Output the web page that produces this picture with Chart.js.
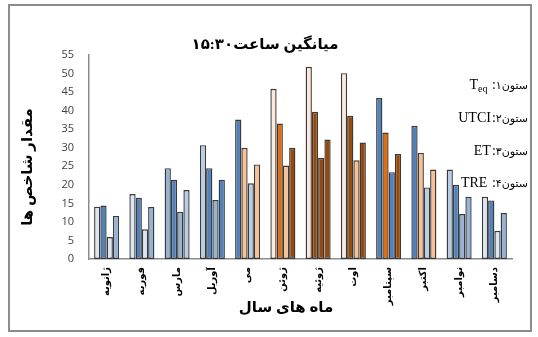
<!DOCTYPE html>
<html>
<head>
<meta charset="utf-8">
<script src="https://cdn.jsdelivr.net/npm/chart.js@4.4.1/dist/chart.umd.min.js"></script>
<style>
html,body{margin:0;padding:0;background:#fff;}
#wrap{position:relative;width:538px;height:337px;}
canvas{display:block;}
</style>
</head>
<body>
<div id="wrap"><canvas id="c" width="538" height="337"></canvas></div>
<script>
// ---- data ----
const categories = ['ژانویه','فوریه','مارس','آوریل','می','ژوئن','ژوئیه','اوت','سپتامبر','اکتبر','نوامبر','دسامبر'];
const teq  = [14.1, 17.5, 24.5, 30.7, 37.6, 45.9, 51.8, 50.1, 43.4, 35.9, 24.1, 16.8];
const utci = [14.4, 16.5, 21.4, 24.5, 30.0, 36.5, 39.7, 38.6, 34.1, 28.6, 20.0, 15.8];
const et   = [5.9, 8.0, 12.7, 15.9, 20.4, 25.2, 27.3, 26.6, 23.4, 19.3, 12.1, 7.6];
const tre  = [11.6, 14.0, 18.6, 21.4, 25.5, 30.0, 32.2, 31.4, 28.3, 24.1, 16.8, 12.4];
const seriesNames = ['Teq', 'UTCI', 'ET', 'TRE'];
const yTicks = [0, 5, 10, 15, 20, 25, 30, 35, 40, 45, 50, 55];
const titleText = 'میانگین ساعت۱۵:۳۰';
const xTitle = 'ماه های سال';
const yTitle = 'مقدار شاخص ها';
const legendLabels = ['ستون۱', 'ستون۲', 'ستون۳', 'ستون۴'];

// ---- styles (per-bar fill colours) ----
const L = '#dce6f2', B = '#4f81bd', M = '#95b3d7', S = '#b9cde5',
      P = '#fac090', VP = '#fde9d9', O = '#e46c0a', BR = '#984807';
const colTeq  = [L, L, M, S, B, VP, VP, VP, B, B, S, L];
const colUtci = [B, B, B, B, P, O, BR, BR, O, P, B, B];
const colEt   = [L, L, M, M, S, P, BR, P, B, S, M, L];
const colTre  = [M, M, S, B, P, BR, BR, BR, BR, P, M, M];

const seriesData = [teq, utci, et, tre];
const seriesCols = [colTeq, colUtci, colEt, colTre];

const datasets = seriesData.map((d, i) => ({
  label: seriesNames[i],
  data: d,
  backgroundColor: seriesCols[i],
  borderColor: '#3a3a3a',
  borderWidth: 1.4,
  borderSkipped: false,
  categoryPercentage: 0.71,
  barPercentage: 1.0
}));

const decor = {
  id: 'decor',
  afterDraw(chart) {
    const ctx = chart.ctx;
    ctx.save();
    // frame
    ctx.strokeStyle = '#8c8c8c';
    ctx.lineWidth = 2;
    ctx.strokeRect(9, 5, 522, 326);
    ctx.fillStyle = '#000';
    ctx.textBaseline = 'middle';
    // title
    ctx.font = 'bold 15px "Liberation Serif", "DejaVu Sans", serif';
    ctx.textAlign = 'center';
    ctx.fillText(titleText, 265, 45);
    // x title
    ctx.fillText(xTitle, 286, 308);
    // y title
    ctx.save();
    ctx.translate(28, 167);
    ctx.rotate(-Math.PI / 2);
    ctx.fillText(yTitle, 0, 0);
    ctx.restore();
    // legend-like text
    const ys = [85, 118, 151, 183];
    for (let i = 0; i < 4; i++) {
      let x = 528;
      ctx.textAlign = 'right';
      ctx.font = '11px "DejaVu Sans", sans-serif';
      ctx.fillText(legendLabels[i], x, ys[i] + 1);
      x -= ctx.measureText(legendLabels[i]).width;
      ctx.font = '14px "Liberation Serif", serif';
      const sep = (i === 0 || i === 3) ? ' :' : ':';
      ctx.fillText(sep, x, ys[i]);
      x -= ctx.measureText(sep).width + 1;
      if (i === 0) {
        ctx.font = '10px "Liberation Serif", serif';
        ctx.fillText('eq', x, ys[i] + 4);
        x -= ctx.measureText('eq').width;
        ctx.font = '14px "Liberation Serif", serif';
        ctx.fillText('T', x, ys[i]);
      } else {
        ctx.fillText(seriesNames[i], x, ys[i]);
      }
    }
    ctx.restore();
  }
};

new Chart(document.getElementById('c'), {
  type: 'bar',
  data: { labels: categories, datasets },
  options: {
    responsive: false,
    animation: false,
    devicePixelRatio: 1,
    layout: { padding: { top: 55, right: 26, bottom: 0, left: 0 } },
    plugins: { legend: { display: false }, tooltip: { enabled: false }, title: { display: false } },
    scales: {
      x: {
        grid: { display: false, drawTicks: false },
        border: { display: true, color: '#8c8c8c', width: 1.5 },
        ticks: {
          minRotation: 90, maxRotation: 90, autoSkip: false, padding: 8,
          color: '#000',
          font: { family: '"DejaVu Sans", sans-serif', size: 10, weight: 'bold' }
        },
        afterFit(s) { s.height = 78; }
      },
      y: {
        min: 0, max: 55,
        afterBuildTicks(s) { s.ticks = yTicks.map(v => ({ value: v })); },
        grid: { display: false, drawTicks: false },
        border: { display: true, color: '#8c8c8c', width: 1.5 },
        ticks: {
          padding: 15, color: '#404040',
          font: { family: '"Open Sans", "Liberation Sans", sans-serif', size: 11 }
        },
        afterFit(s) { s.width = 89; }
      }
    }
  },
  plugins: [decor]
});
</script>
</body>
</html>
